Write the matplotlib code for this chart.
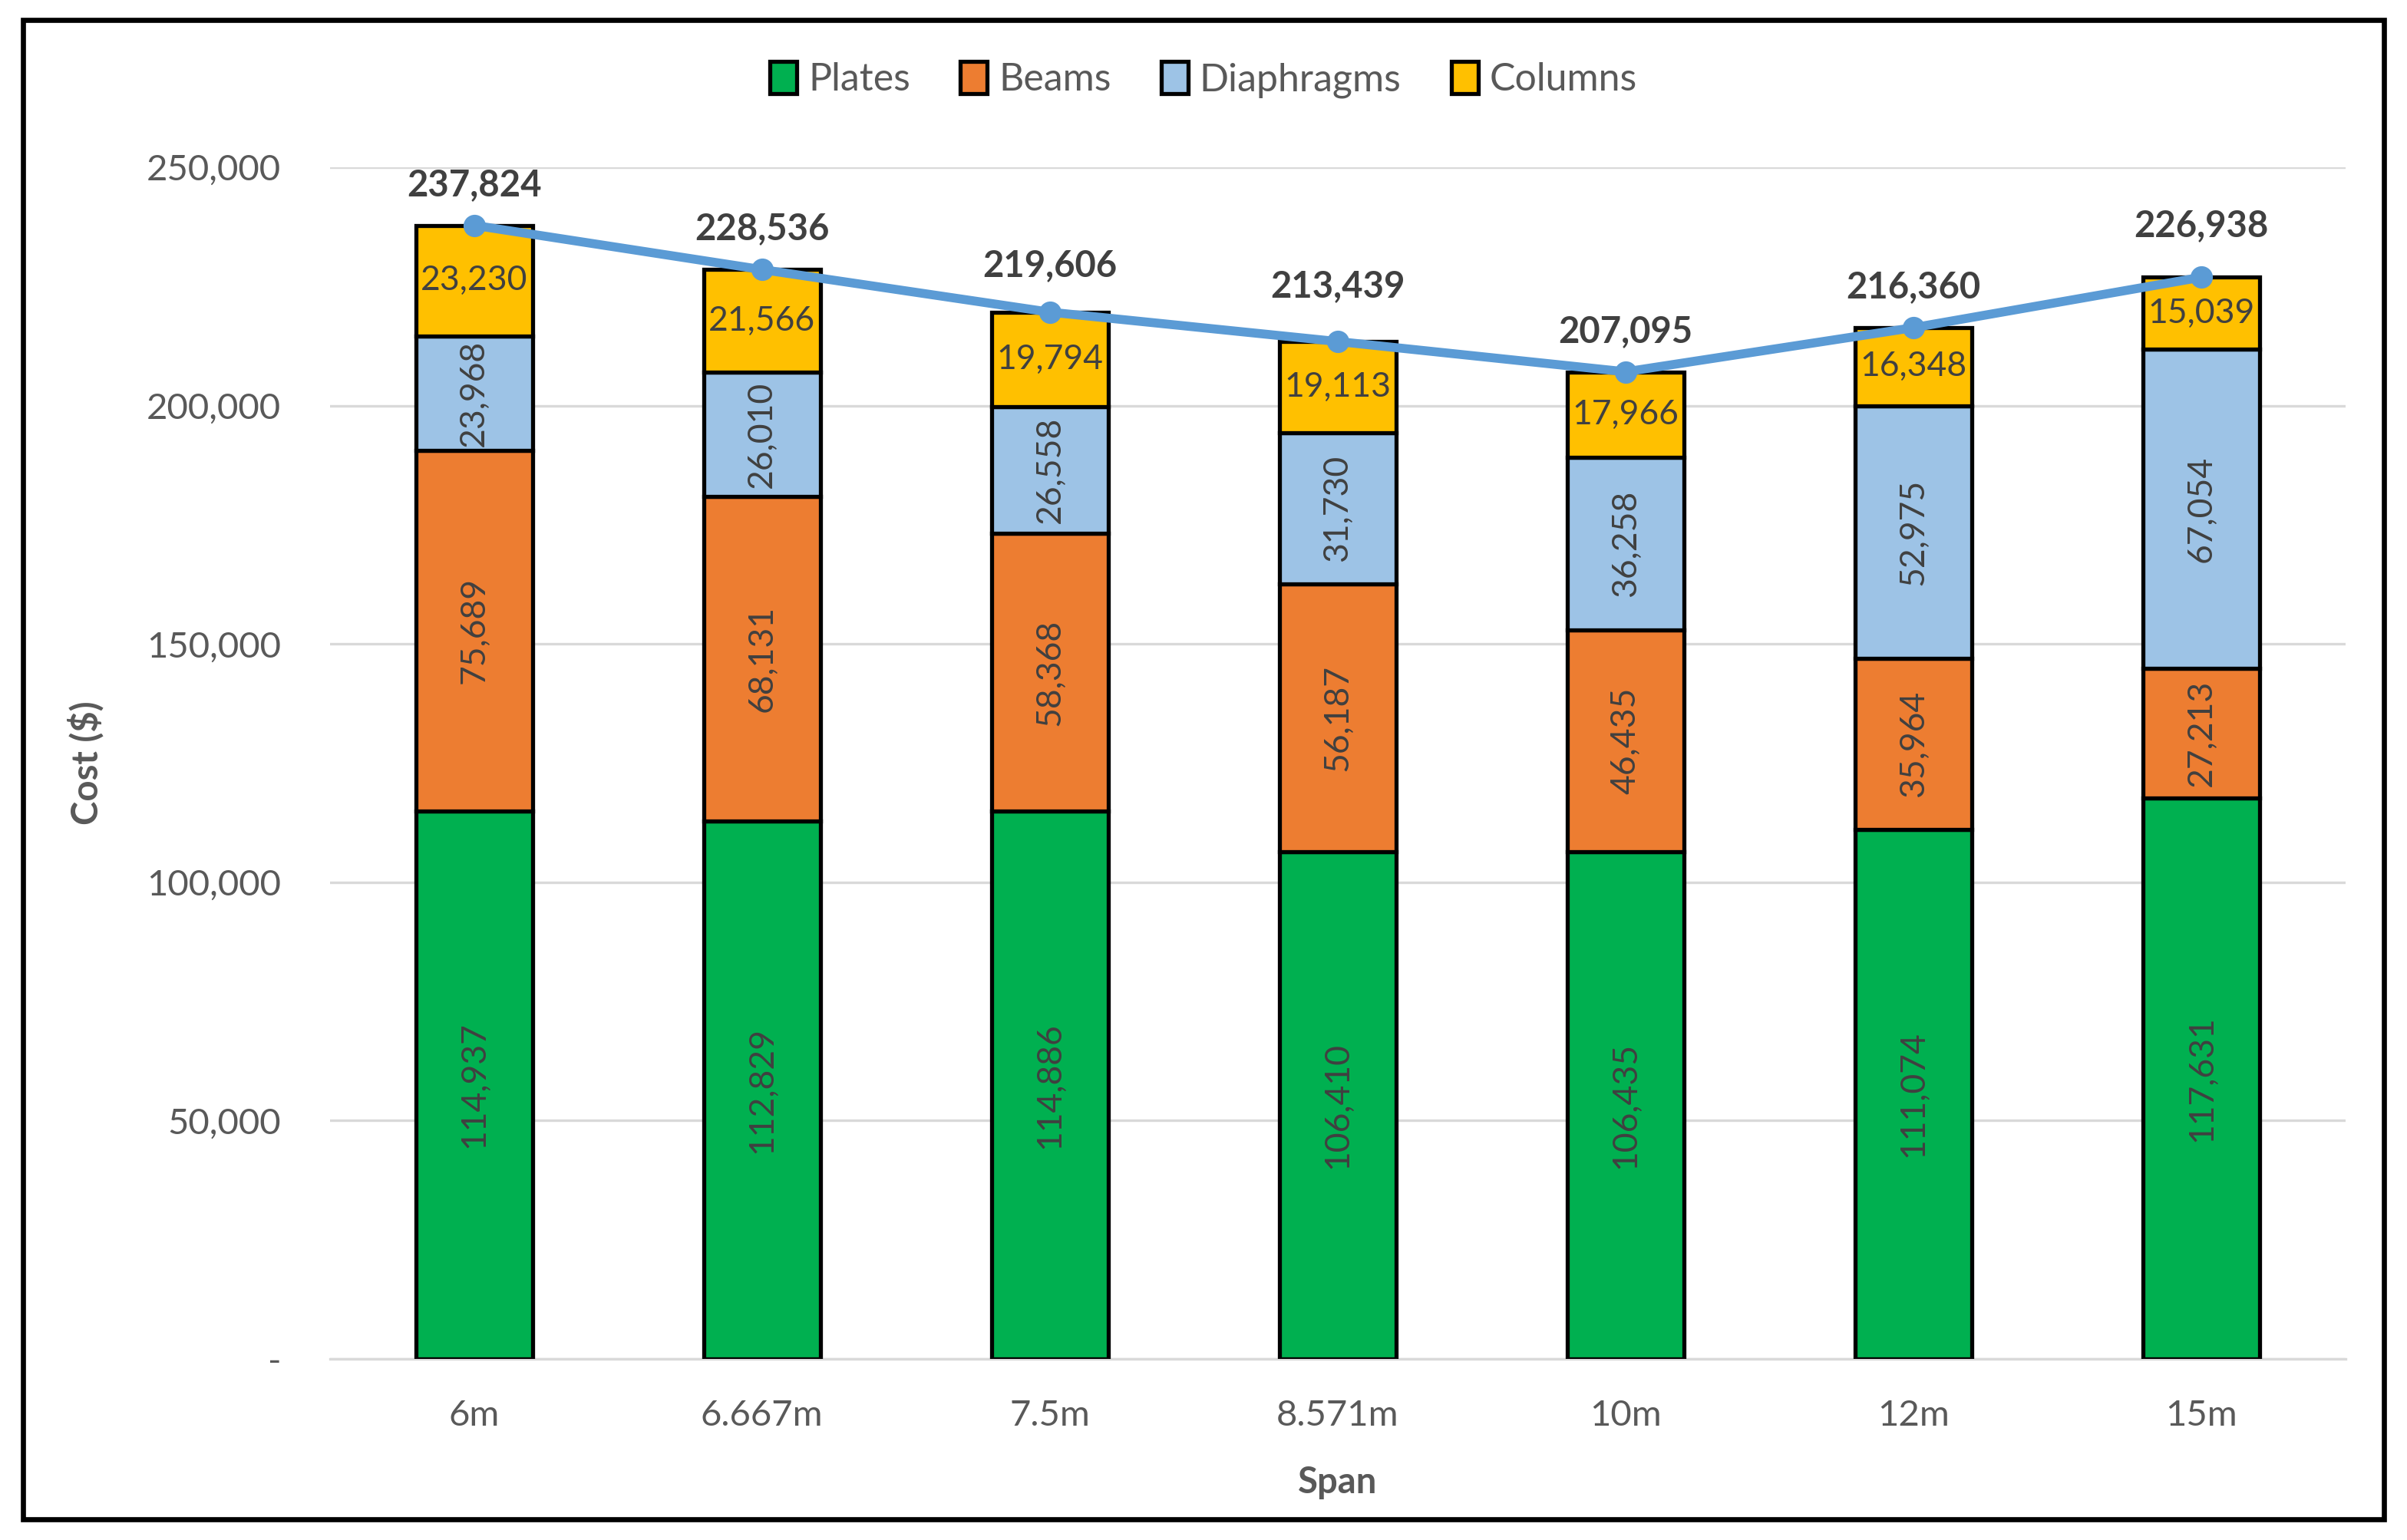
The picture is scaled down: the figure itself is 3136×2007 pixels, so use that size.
import matplotlib.pyplot as plt
import matplotlib.patches as patches
import numpy as np

plt.rcParams['font.family'] = ['Lato', 'DejaVu Sans']

# data
spans = ['6m', '6.667m', '7.5m', '8.571m', '10m', '12m', '15m']
plates = [114937, 112829, 114886, 106410, 106435, 111074, 117631]
beams = [75689, 68131, 58368, 56187, 46435, 35964, 27213]
diaphragms = [23968, 26010, 26558, 31730, 36258, 52975, 67054]
columns = [23230, 21566, 19794, 19113, 17966, 16348, 15039]
totals = [237824, 228536, 219606, 213439, 207095, 216360, 226938]

series = [('Plates', plates, '#00B050', True),
          ('Beams', beams, '#ED7D31', True),
          ('Diaphragms', diaphragms, '#9DC3E6', True),
          ('Columns', columns, '#FFC000', False)]

# offsets of total labels above the points (points)
total_offsets = [19, 19, 22, 26, 19, 19, 24]

W, H = 3136, 2007
DPI = 200
fig = plt.figure(figsize=(W / DPI, H / DPI), dpi=DPI)
ax = fig.add_axes([430 / W, 1 - 1771 / H, (3056 - 430) / W, (1771 - 218) / H])

x = np.arange(len(spans))
bottom = np.zeros(len(spans))
handles = []
for name, vals, color, rot in series:
    vals = np.array(vals, dtype=float)
    bars = ax.bar(x, vals, 0.405, bottom=bottom, color=color, edgecolor='black',
                  linewidth=1.9, label=name, zorder=3)
    handles.append(bars)
    for xi, b, v in zip(x, bottom, vals):
        ax.text(xi, b + v / 2, f'{int(v):,}', ha='center', va='center',
                rotation=90 if rot else 0, fontsize=16, color='#404040', zorder=5)
    bottom += vals

ax.plot(x, totals, color='#5B9BD5', linewidth=4.2, marker='o', markersize=9.5, zorder=6)
for xi, t, off in zip(x, totals, total_offsets):
    ax.annotate(f'{t:,}', (xi, t), xytext=(0, off), textcoords='offset points',
                ha='center', va='center', fontsize=17, fontweight='bold',
                color='#404040', zorder=7)

ax.set_xlim(-0.5, len(spans) - 0.5)
ax.set_ylim(0, 250000)
ax.set_yticks(np.arange(0, 250001, 50000))
ax.set_yticklabels(['-'] + [f'{v:,}' for v in range(50000, 250001, 50000)])
ax.set_xticks(x)
ax.set_xticklabels(spans)
ax.tick_params(axis='y', length=0, pad=23, labelsize=17, labelcolor='#595959')
ax.tick_params(axis='x', length=0, pad=19, labelsize=17, labelcolor='#595959')
ax.grid(axis='y', color='#D9D9D9', linewidth=1.2, zorder=0)
ax.set_axisbelow(True)
for s in ['top', 'right', 'left']:
    ax.spines[s].set_visible(False)
ax.spines['bottom'].set_color('#D9D9D9')
ax.spines['bottom'].set_linewidth(1.2)

ax.set_xlabel('Span', fontsize=17, fontweight='bold', color='#595959', labelpad=16)
ax.set_ylabel('Cost ($)', fontsize=17, fontweight='bold', color='#595959', labelpad=20)

fig.legend(handles=handles, loc='center', bbox_to_anchor=(0.5, 1 - 104 / H),
           ncol=4, frameon=False, fontsize=18, handlelength=0.7, handleheight=0.9,
           handletextpad=0.3, columnspacing=1.3, labelcolor='#595959')

border = patches.Rectangle((30 / W, 1 - 1980 / H), (3106 - 30) / W, (1980 - 26) / H,
                           transform=fig.transFigure, fill=False, edgecolor='black',
                           linewidth=2.4)
fig.patches.append(border)

fig.savefig('out.png', dpi=DPI, facecolor='white')
